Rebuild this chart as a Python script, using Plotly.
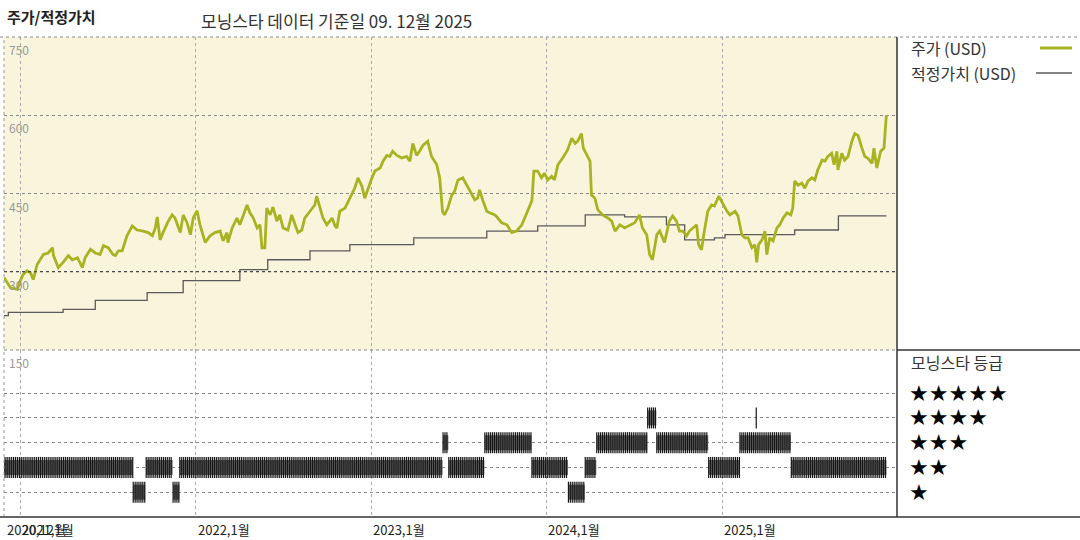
import plotly.graph_objects as go
import pandas as pd

# ---------------- data ----------------
price_dates = [
    "2020-11-28", "2020-12-11", "2020-12-26", "2021-01-01", "2021-01-07", "2021-01-15", "2021-01-22",
    "2021-01-28", "2021-02-05", "2021-02-12", "2021-02-18", "2021-02-28", "2021-03-09", "2021-03-11",
    "2021-03-21", "2021-03-31", "2021-04-11", "2021-04-19", "2021-04-30", "2021-05-10", "2021-05-16",
    "2021-05-27", "2021-06-06", "2021-06-16", "2021-06-23", "2021-07-03", "2021-07-13", "2021-07-18",
    "2021-07-24", "2021-08-01", "2021-08-11", "2021-08-22", "2021-09-01", "2021-09-14", "2021-09-24",
    "2021-10-03", "2021-10-09", "2021-10-13", "2021-10-19", "2021-10-25", "2021-11-05", "2021-11-13",
    "2021-11-19", "2021-11-30", "2021-12-06", "2021-12-14", "2021-12-21", "2021-12-27",
    "2022-01-04", "2022-01-10", "2022-01-21", "2022-01-31", "2022-02-10", "2022-02-21", "2022-02-27",
    "2022-03-07", "2022-03-09", "2022-03-18", "2022-03-28", "2022-04-03", "2022-04-18", "2022-04-24",
    "2022-05-01", "2022-05-09", "2022-05-15", "2022-05-19", "2022-05-25", "2022-05-29", "2022-06-05",
    "2022-06-11", "2022-06-19", "2022-06-25", "2022-07-02", "2022-07-12", "2022-07-20", "2022-07-27",
    "2022-08-02", "2022-08-10", "2022-08-16", "2022-08-27", "2022-09-06", "2022-09-10", "2022-09-17",
    "2022-09-23", "2022-10-01", "2022-10-12", "2022-10-18", "2022-10-22", "2022-10-28", "2022-11-08",
    "2022-11-18", "2022-11-28", "2022-12-05", "2022-12-13", "2022-12-19", "2022-12-26",
    "2023-01-03", "2023-01-09", "2023-01-20", "2023-01-26", "2023-02-03", "2023-02-09", "2023-02-15",
    "2023-02-24", "2023-03-06", "2023-03-16", "2023-03-23", "2023-03-29", "2023-04-06", "2023-04-12",
    "2023-04-19", "2023-04-29", "2023-05-07", "2023-05-18", "2023-05-24", "2023-05-30", "2023-06-03",
    "2023-06-10", "2023-06-18", "2023-06-24", "2023-07-01", "2023-07-11", "2023-07-19", "2023-07-30",
    "2023-08-05", "2023-08-11", "2023-08-15", "2023-08-22", "2023-08-30", "2023-09-05", "2023-09-16",
    "2023-09-22", "2023-09-30", "2023-10-11", "2023-10-21", "2023-10-31", "2023-11-11", "2023-11-17",
    "2023-11-23", "2023-12-02", "2023-12-06", "2023-12-14", "2023-12-22", "2023-12-28",
    "2024-01-04", "2024-01-12", "2024-01-18", "2024-01-25", "2024-02-04", "2024-02-14", "2024-02-23",
    "2024-03-01", "2024-03-06", "2024-03-14", "2024-03-18", "2024-03-25", "2024-04-01", "2024-04-04",
    "2024-04-11", "2024-04-17", "2024-04-27", "2024-05-08", "2024-05-16", "2024-05-23", "2024-06-02",
    "2024-06-12", "2024-06-23", "2024-07-03", "2024-07-13", "2024-07-19", "2024-07-28", "2024-08-03",
    "2024-08-09", "2024-08-18", "2024-08-24", "2024-09-03", "2024-09-13", "2024-09-20", "2024-09-28",
    "2024-10-04", "2024-10-11", "2024-10-19", "2024-10-25", "2024-11-01", "2024-11-09", "2024-11-13",
    "2024-11-19", "2024-11-25", "2024-12-02", "2024-12-10", "2024-12-16", "2024-12-25",
    "2025-01-03", "2025-01-11", "2025-01-17", "2025-01-28", "2025-02-03", "2025-02-11", "2025-02-17",
    "2025-02-24", "2025-03-04", "2025-03-10", "2025-03-14", "2025-03-18", "2025-03-25", "2025-03-31",
    "2025-04-04", "2025-04-10", "2025-04-17", "2025-04-25", "2025-05-01", "2025-05-08", "2025-05-16",
    "2025-05-24", "2025-05-28", "2025-06-01", "2025-06-08", "2025-06-16", "2025-06-22", "2025-06-29",
    "2025-07-07", "2025-07-13", "2025-07-19", "2025-07-28", "2025-08-03", "2025-08-09", "2025-08-17",
    "2025-08-22", "2025-08-28", "2025-08-30", "2025-09-07", "2025-09-13", "2025-09-20", "2025-09-28",
    "2025-10-04", "2025-10-11", "2025-10-19", "2025-10-25", "2025-10-31", "2025-11-09", "2025-11-13",
    "2025-11-19", "2025-11-27", "2025-12-04", "2025-12-08", "2025-12-09",
]
price_values = [
    289, 270, 266, 283, 295, 302, 298,
    285, 314, 323, 333, 336, 346, 331,
    308, 318, 331, 323, 327, 308, 327,
    343, 336, 333, 350, 346, 333, 331,
    340, 340, 369, 388, 380, 378, 375,
    369, 384, 405, 361, 375, 397, 409,
    403, 375, 409, 394, 371, 403,
    417, 390, 356, 369, 375, 378, 359,
    375, 356, 384, 403, 390, 428, 413,
    403, 384, 390, 346, 346, 422, 409,
    424, 397, 409, 384, 380, 409, 390,
    375, 380, 403, 416, 428, 445, 422,
    403, 390, 403, 388, 384, 416, 422,
    441, 460, 480, 464, 441, 460,
    480, 493, 499, 512, 523, 521, 531,
    523, 518, 521, 512, 546, 523, 531,
    542, 550, 521, 505, 480, 415, 409,
    422, 447, 454, 476, 480, 466, 447,
    438, 441, 457, 436, 416, 413, 409,
    403, 394, 390, 375, 378, 390, 403,
    416, 436, 493, 493, 480, 489,
    476, 483, 476, 505, 518, 533, 556,
    546, 550, 565, 537, 523, 512, 447,
    441, 419, 409, 403, 397, 378, 390,
    384, 390, 394, 409, 384, 371, 333,
    323, 371, 378, 356, 397, 407, 397,
    378, 378, 369, 378, 384, 390, 352,
    342, 378, 416, 428, 426, 445,
    428, 416, 409, 416, 407, 371, 365,
    365, 346, 352, 318, 352, 361, 378,
    333, 365, 359, 384, 390, 403, 413,
    409, 422, 474, 466, 470, 460, 474,
    480, 476, 495, 514, 512, 521, 527,
    505, 531, 495, 527, 514, 521, 550,
    565, 561, 537, 521, 518, 508, 537,
    499, 531, 537, 590, 600,
]

fair_dates = [
    "2020-11-28", "2020-12-07", "2021-03-31", "2021-06-06", "2021-09-22", "2021-12-06",
    "2022-04-03", "2022-05-31", "2022-08-27", "2022-11-18", "2023-03-31", "2023-08-30",
    "2023-12-14", "2024-03-22", "2024-06-12", "2024-09-07", "2024-10-15", "2024-12-16",
    "2025-01-07", "2025-06-01", "2025-08-31", "2025-12-09",
]
fair_values = [
    216, 222, 228, 245, 260, 283,
    304, 323, 340, 352, 365, 378,
    388, 409, 405, 390, 361, 365,
    371, 380, 407, 407,
]

rating_starts = [
    "2020-11-28", "2021-08-24", "2021-09-20", "2021-11-15", "2021-11-29", "2023-05-31",
    "2023-06-12", "2023-08-26", "2023-12-02", "2024-02-16", "2024-03-22", "2024-04-15",
    "2024-07-30", "2024-08-18", "2024-12-04", "2025-02-07", "2025-03-13", "2025-05-25",
]
rating_ends = [
    "2021-08-23", "2021-09-18", "2021-11-14", "2021-11-28", "2023-05-30", "2023-06-11",
    "2023-08-25", "2023-12-01", "2024-02-15", "2024-03-21", "2024-04-14", "2024-07-29",
    "2024-08-17", "2024-12-03", "2025-02-06", "2025-05-24", "2025-03-13", "2025-12-09",
]
rating_stars = [2, 1, 2, 1, 2, 3, 2, 3, 2, 1, 2, 3, 4, 3, 2, 3, 4, 2]

price_ticks = [750, 600, 450, 300]
rating_rows = [1, 2, 3, 4, 5]
year_ticks = ["2021-01-01", "2022-01-01", "2023-01-01", "2024-01-01", "2025-01-01"]
x_label_dates = ["2020-12-01", "2021-01-01", "2022-01-01", "2023-01-01", "2024-01-01", "2025-01-01"]
x_label_texts = ["2020,12월", "2021,1월", "2022,1월", "2023,1월", "2024,1월", "2025,1월"]

# ---------------- style ----------------
FONT = "Noto Sans CJK KR"
PRICE_COLOR = "#a9b321"
FAIR_COLOR = "#5a5a5a"
BG_TOP = "#f8f5dc"
W, H = 1080, 540
ML, MR, MT, MB = 4, 183, 37, 23
PW = W - ML - MR
PH = H - MT - MB
SPLIT = (517 - 350) / PH  # bottom panel fraction


def px_x(x):
    return (x - ML) / PW


def px_y(y):
    return (H - MB - y) / PH


fig = go.Figure()

fig.add_trace(go.Scatter(
    x=fair_dates, y=fair_values, mode="lines", line=dict(color=FAIR_COLOR, width=1.3, shape="hv"),
    xaxis="x", yaxis="y", hoverinfo="skip", showlegend=False))
fig.add_trace(go.Scatter(
    x=price_dates, y=price_values, mode="lines", line=dict(color=PRICE_COLOR, width=2.8),
    xaxis="x", yaxis="y", showlegend=False))

# rating bars: base band + barcode ticks
bx, by, tx, ty = [], [], [], []
for s, e, r in zip(rating_starts, rating_ends, rating_stars):
    bx += [s, e, None]
    by += [r, r, None]
    for d in pd.date_range(s, e, freq="4D"):
        tx.append(d)
        ty.append(r)
fig.add_trace(go.Scatter(
    x=bx, y=by, mode="lines", line=dict(color="#6a6a6a", width=15),
    xaxis="x", yaxis="y2", hoverinfo="skip", showlegend=False))
fig.add_trace(go.Scatter(
    x=tx, y=ty, mode="markers",
    marker=dict(symbol="line-ns", size=15, line=dict(color="#151515", width=1.2)),
    xaxis="x", yaxis="y2", hoverinfo="skip", showlegend=False))

fig.update_layout(
    width=W, height=H,
    margin=dict(l=ML, r=MR, t=MT, b=MB),
    paper_bgcolor="white", plot_bgcolor="white",
    font=dict(family=FONT, color="#333"),
    xaxis=dict(range=["2020-11-28", "2025-12-31"], anchor="y2", tickvals=year_ticks,
               showticklabels=False, ticks="", showgrid=True, gridcolor="#aaaaaa",
               griddash="dot", gridwidth=1, zeroline=False, showline=False),
    yaxis=dict(domain=[SPLIT, 1], range=[150, 750], tickvals=price_ticks, showticklabels=False,
               ticks="", showgrid=True, gridcolor="#888888", griddash="dot", gridwidth=1,
               zeroline=False, showline=False),
    yaxis2=dict(domain=[0, SPLIT], range=[0, 6.74], tickvals=rating_rows, showticklabels=False,
                ticks="", showgrid=True, gridcolor="#888888", griddash="dot", gridwidth=1,
                zeroline=False, showline=False),
)

shapes = []
shapes.append(dict(type="rect", xref="x domain", yref="y domain", x0=0, x1=1, y0=0, y1=1,
                   fillcolor=BG_TOP, line=dict(width=0), layer="below"))
shapes.append(dict(type="line", xref="x domain", yref="y", x0=0, x1=1, y0=300, y1=300,
                   line=dict(color="#333333", width=1, dash="dot")))
shapes.append(dict(type="line", xref="x domain", yref="paper", x0=0, x1=1, y0=SPLIT, y1=SPLIT,
                   line=dict(color="#888888", width=1, dash="dot")))
shapes.append(dict(type="line", xref="paper", yref="paper", x0=px_x(0), x1=px_x(W), y0=1, y1=1,
                   line=dict(color="#888888", width=1, dash="dot")))
shapes.append(dict(type="line", xref="paper", yref="paper", x0=0, x1=0, y0=0, y1=1,
                   line=dict(color="#999999", width=1, dash="dot")))
shapes.append(dict(type="line", xref="paper", yref="paper", x0=1, x1=1, y0=0, y1=1,
                   line=dict(color="#333333", width=1.5)))
shapes.append(dict(type="line", xref="paper", yref="paper", x0=px_x(0), x1=px_x(W), y0=0, y1=0,
                   line=dict(color="#333333", width=1.5)))
shapes.append(dict(type="line", xref="paper", yref="paper", x0=1, x1=px_x(W), y0=SPLIT, y1=SPLIT,
                   line=dict(color="#333333", width=1.5)))
shapes.append(dict(type="line", xref="paper", yref="paper", x0=px_x(1040), x1=px_x(1072),
                   y0=px_y(48), y1=px_y(48), line=dict(color=PRICE_COLOR, width=3)))
shapes.append(dict(type="line", xref="paper", yref="paper", x0=px_x(1036), x1=px_x(1072),
                   y0=px_y(73), y1=px_y(73), line=dict(color=FAIR_COLOR, width=1.3)))
fig.update_layout(shapes=shapes)

ann = []
ann.append(dict(text="<b>주가/적정가치</b>", xref="paper", yref="paper", x=px_x(5), y=px_y(16),
                xanchor="left", yanchor="middle", showarrow=False,
                font=dict(size=15, color="#222", family=FONT)))
ann.append(dict(text="모닝스타 데이터 기준일 09. 12월 2025", xref="paper", yref="paper",
                x=px_x(199), y=px_y(20), xanchor="left", yanchor="middle", showarrow=False,
                font=dict(size=17, color="#333", family=FONT)))
for v in price_ticks + [150]:
    ann.append(dict(text=str(v), xref="paper", yref="y", x=px_x(7), y=v, xanchor="left",
                    yanchor="top", yshift=-2, showarrow=False,
                    font=dict(size=12, color="#999999", family=FONT)))
for d, t in zip(x_label_dates, x_label_texts):
    ann.append(dict(text=t, xref="x", yref="paper", x=d, y=0, xanchor="left", yanchor="top",
                    yshift=-1, showarrow=False, font=dict(size=13, color="#222", family=FONT)))
ann.append(dict(text="주가 (USD)", xref="paper", yref="paper", x=px_x(909), y=px_y(48),
                xanchor="left", yanchor="middle", showarrow=False,
                font=dict(size=16, color="#333", family=FONT)))
ann.append(dict(text="적정가치 (USD)", xref="paper", yref="paper", x=px_x(909), y=px_y(73),
                xanchor="left", yanchor="middle", showarrow=False,
                font=dict(size=16, color="#333", family=FONT)))
ann.append(dict(text="모닝스타 등급", xref="paper", yref="paper", x=px_x(909), y=px_y(362),
                xanchor="left", yanchor="middle", showarrow=False,
                font=dict(size=16, color="#333", family=FONT)))
for r in rating_rows:
    ann.append(dict(text="★" * r, xref="paper", yref="y2", x=px_x(907), y=r,
                    xanchor="left", yanchor="middle", showarrow=False,
                    font=dict(size=22, color="#000", family="DejaVu Sans")))
fig.update_layout(annotations=ann)

fig.write_html("out.html", config={"displayModeBar": False},
               post_script="document.body.style.margin='0px';")
